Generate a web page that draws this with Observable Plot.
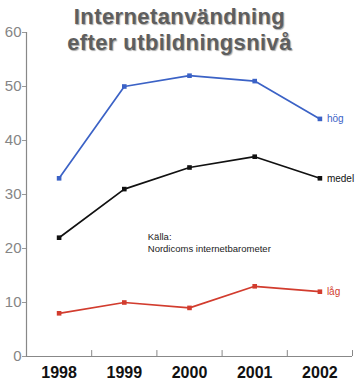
<!DOCTYPE html>
<html><head><meta charset="utf-8">
<script src="https://cdn.jsdelivr.net/npm/d3@7"></script>
<script src="https://cdn.jsdelivr.net/npm/@observablehq/plot@0.6"></script>
<style>
body{margin:0;background:#fff;}
.ttl text{text-shadow:1px 1px 1px #aaa;letter-spacing:0.4px;}
</style>
</head><body>
<div id="chart"></div>
<script>
const years = [1998, 1999, 2000, 2001, 2002];
const hog = [33, 50, 52, 51, 44];
const medel = [22, 31, 35, 37, 33];
const lag = [8, 10, 9, 13, 12];
const seriesNames = ["hög", "medel", "låg"];
const seriesColors = ["#3b62c6", "#111111", "#d23c2e"];
const yTicks = [0, 10, 20, 30, 40, 50, 60];
const titleLines = ["Internetanvändning", "efter utbildningsnivå"];
const sourceText = "Källa:\nNordicoms internetbarometer";

const seriesValues = [hog, medel, lag];
const data = [];
seriesNames.forEach((s, si) => years.forEach((yr, i) => data.push({series: s, year: yr, value: seriesValues[si][i]})));
const last = data.filter(d => d.year === years[years.length - 1]);
const boundaries = years.map(y => y + 0.5);

const chart = Plot.plot({
  width: 361, height: 384,
  marginLeft: 26, marginRight: 9, marginTop: 32, marginBottom: 28,
  style: {fontFamily: "Liberation Sans, Arial, sans-serif", background: "#fff"},
  x: {domain: [years[0] - 0.5, years[years.length - 1] + 0.5]},
  y: {domain: [0, 60]},
  color: {domain: seriesNames, range: seriesColors},
  marks: [
    Plot.axisY({ticks: yTicks, tickSize: 4, tickPadding: 1, fontSize: 15, color: "#858585", label: null, stroke: "#999"}),
    Plot.axisX({ticks: years, tickSize: 0, tickPadding: 10, fontSize: 16, fontWeight: "bold", color: "#111", label: null, tickFormat: d => String(d)}),
    Plot.ruleX(boundaries, {y1: 0, y2: 1.1, stroke: "#888", strokeWidth: 1}),
    Plot.ruleX([years[0] - 0.5], {stroke: "#888", strokeWidth: 1.2}),
    Plot.ruleY([0], {stroke: "#888", strokeWidth: 1.2}),
    Plot.line(data, {x: "year", y: "value", z: "series", stroke: "series", strokeWidth: 1.7}),
    Plot.dot(data, {x: "year", y: "value", fill: "series", symbol: "square", r: 2.6, stroke: null}),
    Plot.text(last, {x: "year", y: "value", text: "series", fill: "series", dx: 7, textAnchor: "start", fontSize: 10}),
    Plot.text([sourceText], {x: 1999.36, y: 21.1, text: d => d, textAnchor: "start", fontSize: 9.5, fill: "#222", lineHeight: 1.25}),
    Plot.text([titleLines[0]], {frameAnchor: "top", dx: -10, dy: -24, text: d => d, fontSize: 22, fontWeight: "bold", fill: "#5e5e5e", className: "ttl"}),
    Plot.text([titleLines[1]], {frameAnchor: "top", dx: -10, dy: 2, text: d => d, fontSize: 22, fontWeight: "bold", fill: "#5e5e5e", className: "ttl"})
  ]
});
document.getElementById("chart").append(chart);
</script>
</body></html>
